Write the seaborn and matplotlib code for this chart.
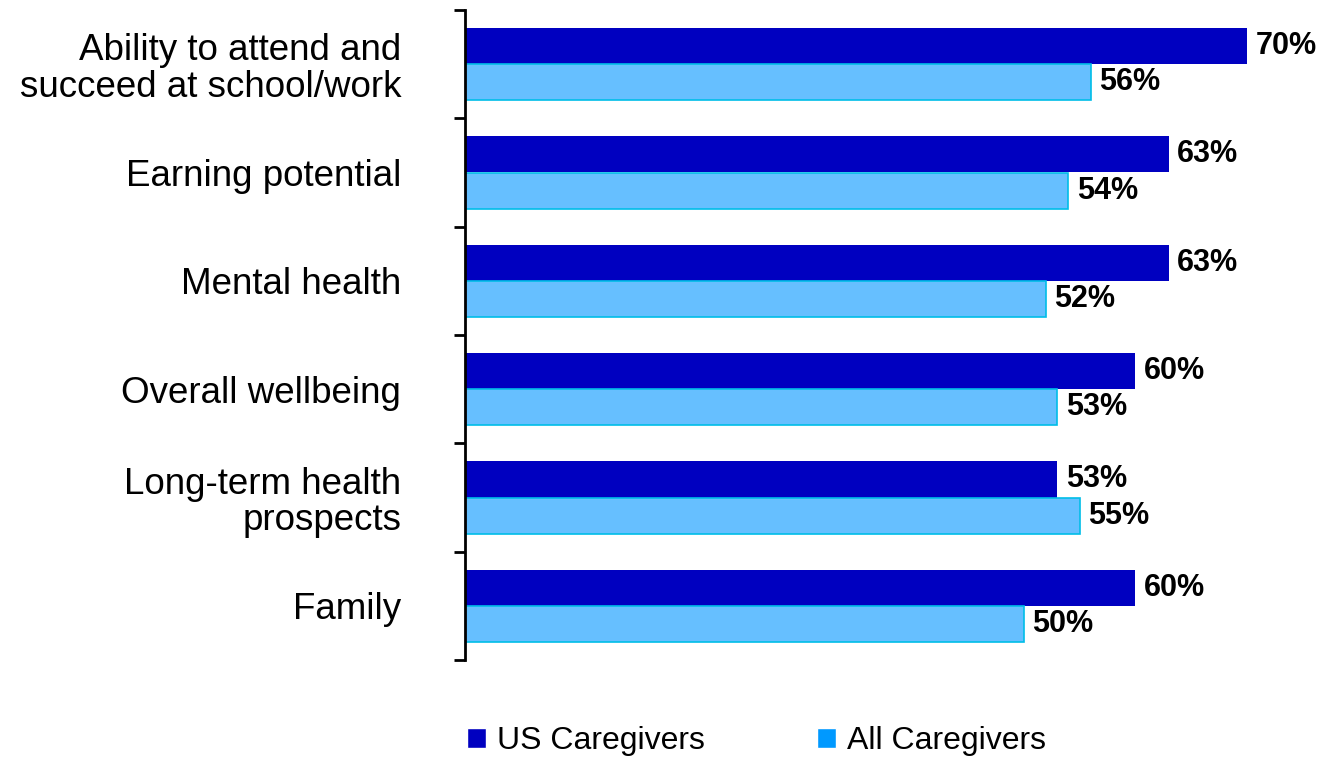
import matplotlib.pyplot as plt
import pandas as pd
import seaborn as sns
from matplotlib.patches import Patch

# Chart data
categories = [
    "Ability to attend and\nsucceed at school/work",
    "Earning potential",
    "Mental health",
    "Overall wellbeing",
    "Long-term health\nprospects",
    "Family",
]
us_caregivers = [70, 63, 63, 60, 53, 60]
all_caregivers = [56, 54, 52, 53, 55, 50]
series_names = ["US Caregivers", "All Caregivers"]

df = pd.DataFrame({
    "category": categories * 2,
    "series": [series_names[0]] * len(categories) + [series_names[1]] * len(categories),
    "value": us_caregivers + all_caregivers,
})

dark_blue = "#0000C0"
light_blue = "#66BFFF"
light_edge = "#00BDE8"
legend_light = "#0099FF"

sns.set_style("white")
plt.rcParams["font.family"] = ["Liberation Sans", "DejaVu Sans"]
plt.rcParams["text.color"] = "black"
plt.rcParams["ytick.color"] = "black"
plt.rcParams["ytick.labelcolor"] = "black"

fig = plt.figure(figsize=(13.21, 7.57), dpi=100)
ax = fig.add_axes([465 / 1321, 1 - 660 / 757, 1 - 465 / 1321, 650 / 757])

sns.barplot(data=df, y="category", x="value", hue="series", orient="h",
            palette=[dark_blue, light_blue], saturation=1, width=0.665,
            legend=False, ax=ax)

# Edge only on the light bars
for bar in ax.containers[0]:
    bar.set_edgecolor("none")
for bar in ax.containers[1]:
    bar.set_edgecolor(light_edge)
    bar.set_linewidth(1.2)

for cont in ax.containers:
    ax.bar_label(cont, fmt="%.0f%%", padding=6, fontsize=22, fontweight="bold",
                 color="black")

ax.set_xlim(0, 76.6)
ax.set_ylim(len(categories) - 0.5, -0.5)

# Category labels on minor ticks, boundary ticks as major
ax.set_yticks([i - 0.5 for i in range(len(categories) + 1)])
ax.set_yticklabels([])
ax.set_yticks(range(len(categories)), minor=True)
ax.set_yticklabels(categories, minor=True, fontsize=26.5, linespacing=1.05,
                   color="black")
ax.tick_params(axis="y", which="major", length=8, width=2, direction="out", left=True)
ax.tick_params(axis="y", which="minor", length=0, pad=46)
ax.set_xticks([])
ax.set_xlabel("")
ax.set_ylabel("")

for side in ["top", "right", "bottom"]:
    ax.spines[side].set_visible(False)
ax.spines["left"].set_linewidth(2)
ax.spines["left"].set_color("black")

handles = [Patch(facecolor=dark_blue), Patch(facecolor=legend_light)]
fig.legend(handles, series_names, loc="center left",
           bbox_to_anchor=(467 / 1321, 1 - 741 / 757), ncol=2, frameon=False,
           fontsize=23, handlelength=0.6, handleheight=0.6, handletextpad=0.35,
           columnspacing=3.5, borderaxespad=0, borderpad=0)

fig.savefig("out.png", dpi=100)
plt.close()
